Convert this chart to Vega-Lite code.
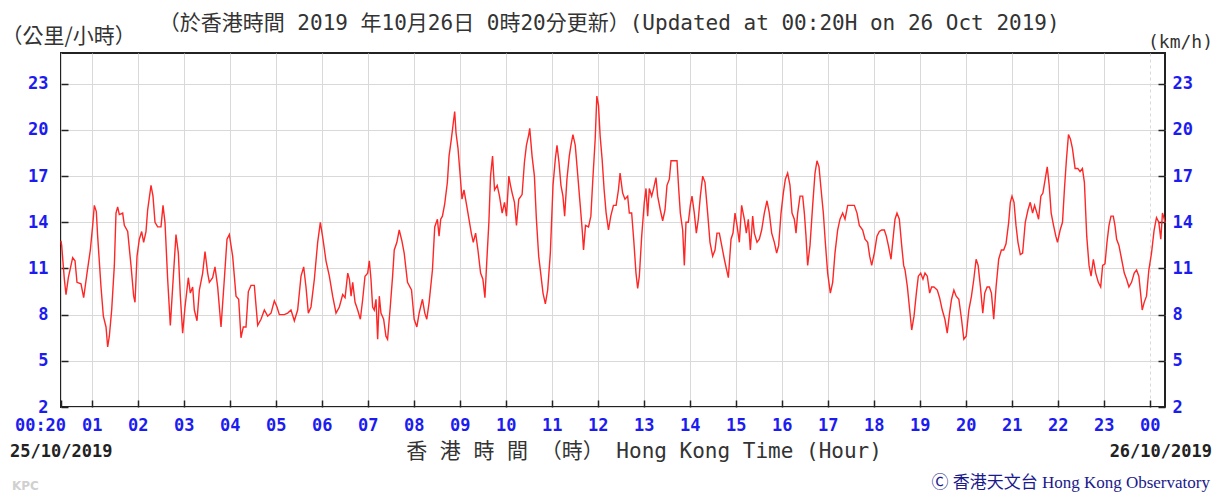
{
  "$schema": "https://vega.github.io/schema/vega-lite/v6.json",
  "width": 1104,
  "height": 354,
  "autosize": {"type": "none"},
  "padding": {"left": 61, "top": 53, "right": 52, "bottom": 85},
  "background": "white",
  "config": {
    "view": {"stroke": "#222", "strokeWidth": 2},
    "axis": {"domain": false, "labelFont": "DejaVu Sans Mono", "labelFontWeight": "bold", "labelFontSize": 17, "labelColor": "#1c1cf0", "tickColor": "#222", "tickWidth": 1.5, "tickSize": -7, "gridColor": "#d9d9d9", "gridWidth": 1, "labelOverlap": false, "labelFlush": false}
  },
  "datasets": {
    "wind": [
      {"t":0.333,"v":12.8},{"t":0.348,"v":12.5},{"t":0.406,"v":10.3},{"t":0.442,"v":9.3},{"t":0.493,"v":10.4},{"t":0.587,"v":11.7},{"t":0.638,"v":11.5},{"t":0.681,"v":10.1},{"t":0.768,"v":10.0},{"t":0.826,"v":9.1},{"t":0.899,"v":10.7},{"t":0.971,"v":12.2},{"t":1.022,"v":13.8},{"t":1.058,"v":15.1},{"t":1.101,"v":14.7},{"t":1.130,"v":13.1},{"t":1.203,"v":9.8},{"t":1.254,"v":7.9},{"t":1.312,"v":7.2},{"t":1.348,"v":5.9},{"t":1.384,"v":6.6},{"t":1.435,"v":8.3},{"t":1.493,"v":11.2},{"t":1.529,"v":14.6},{"t":1.565,"v":15.0},{"t":1.601,"v":14.5},{"t":1.674,"v":14.6},{"t":1.710,"v":13.8},{"t":1.783,"v":13.4},{"t":1.855,"v":11.2},{"t":1.913,"v":9.2},{"t":1.942,"v":8.8},{"t":1.986,"v":11.8},{"t":2.036,"v":12.9},{"t":2.087,"v":13.4},{"t":2.130,"v":12.7},{"t":2.181,"v":13.4},{"t":2.217,"v":14.8},{"t":2.290,"v":16.4},{"t":2.333,"v":15.7},{"t":2.377,"v":14.0},{"t":2.435,"v":13.7},{"t":2.507,"v":13.7},{"t":2.551,"v":15.1},{"t":2.594,"v":14.0},{"t":2.652,"v":10.3},{"t":2.710,"v":7.3},{"t":2.761,"v":9.8},{"t":2.833,"v":13.2},{"t":2.884,"v":12.0},{"t":2.928,"v":9.2},{"t":2.978,"v":6.8},{"t":3.029,"v":8.5},{"t":3.101,"v":10.4},{"t":3.145,"v":9.4},{"t":3.196,"v":9.8},{"t":3.232,"v":8.3},{"t":3.290,"v":7.6},{"t":3.341,"v":9.6},{"t":3.413,"v":10.7},{"t":3.464,"v":12.1},{"t":3.522,"v":10.7},{"t":3.558,"v":10.1},{"t":3.630,"v":10.4},{"t":3.681,"v":11.1},{"t":3.739,"v":9.8},{"t":3.812,"v":7.2},{"t":3.884,"v":10.3},{"t":3.942,"v":12.9},{"t":3.993,"v":13.2},{"t":4.065,"v":11.8},{"t":4.138,"v":9.2},{"t":4.196,"v":9.0},{"t":4.246,"v":6.5},{"t":4.297,"v":7.2},{"t":4.355,"v":7.2},{"t":4.406,"v":9.5},{"t":4.464,"v":9.9},{"t":4.536,"v":9.9},{"t":4.609,"v":7.3},{"t":4.681,"v":7.7},{"t":4.754,"v":8.3},{"t":4.826,"v":7.9},{"t":4.899,"v":8.1},{"t":4.971,"v":8.9},{"t":5.029,"v":8.5},{"t":5.080,"v":8.0},{"t":5.188,"v":8.0},{"t":5.261,"v":8.1},{"t":5.333,"v":8.3},{"t":5.406,"v":7.6},{"t":5.478,"v":8.3},{"t":5.551,"v":10.5},{"t":5.609,"v":11.1},{"t":5.659,"v":9.8},{"t":5.710,"v":8.1},{"t":5.768,"v":8.5},{"t":5.841,"v":10.3},{"t":5.913,"v":12.7},{"t":5.971,"v":14.0},{"t":6.029,"v":12.9},{"t":6.094,"v":11.5},{"t":6.167,"v":10.5},{"t":6.239,"v":9.2},{"t":6.312,"v":8.1},{"t":6.384,"v":8.5},{"t":6.457,"v":9.3},
      {"t":6.509,"v":9.1},{"t":6.567,"v":10.7},{"t":6.603,"v":10.3},{"t":6.639,"v":9.2},{"t":6.675,"v":10.1},{"t":6.726,"v":8.8},{"t":6.783,"v":8.3},{"t":6.841,"v":7.7},{"t":6.892,"v":9.0},{"t":6.942,"v":10.5},{"t":7.000,"v":10.7},{"t":7.036,"v":11.5},{"t":7.072,"v":10.3},{"t":7.108,"v":8.5},{"t":7.144,"v":8.3},{"t":7.181,"v":9.0},{"t":7.217,"v":6.4},{"t":7.253,"v":9.2},{"t":7.289,"v":8.1},{"t":7.347,"v":7.7},{"t":7.397,"v":6.6},{"t":7.433,"v":6.4},{"t":7.491,"v":8.5},{"t":7.542,"v":10.5},{"t":7.578,"v":12.2},{"t":7.635,"v":12.7},{"t":7.686,"v":13.5},{"t":7.744,"v":12.8},{"t":7.794,"v":12.0},{"t":7.866,"v":10.1},{"t":7.953,"v":9.6},{"t":8.011,"v":7.7},{"t":8.069,"v":7.2},{"t":8.119,"v":8.1},{"t":8.191,"v":9.0},{"t":8.242,"v":8.1},{"t":8.285,"v":7.7},{"t":8.336,"v":8.8},{"t":8.408,"v":10.9},{"t":8.458,"v":13.7},{"t":8.516,"v":14.2},{"t":8.552,"v":13.1},{"t":8.588,"v":14.2},{"t":8.625,"v":14.4},{"t":8.675,"v":15.2},{"t":8.733,"v":16.6},{"t":8.769,"v":18.3},{"t":8.819,"v":19.4},{"t":8.863,"v":20.5},{"t":8.892,"v":21.2},{"t":8.921,"v":19.8},{"t":8.964,"v":18.8},{"t":9.007,"v":17.2},{"t":9.051,"v":15.5},{"t":9.094,"v":16.1},{"t":9.152,"v":15.1},{"t":9.202,"v":14.2},{"t":9.253,"v":13.3},{"t":9.296,"v":12.7},{"t":9.347,"v":13.3},{"t":9.397,"v":12.2},{"t":9.455,"v":10.7},{"t":9.505,"v":10.3},{"t":9.549,"v":9.1},{"t":9.585,"v":11.2},{"t":9.635,"v":14.0},{"t":9.671,"v":17.0},{"t":9.715,"v":18.3},{"t":9.758,"v":16.1},{"t":9.816,"v":16.4},{"t":9.866,"v":15.7},{"t":9.924,"v":14.6},{"t":9.975,"v":15.3},{"t":10.018,"v":14.4},{"t":10.069,"v":17.0},{"t":10.105,"v":16.4},{"t":10.141,"v":15.9},{"t":10.191,"v":15.3},{"t":10.235,"v":13.8},{"t":10.285,"v":15.5},{"t":10.357,"v":15.8},{"t":10.408,"v":17.9},{"t":10.451,"v":19.0},{"t":10.502,"v":19.7},{"t":10.523,"v":20.1},{"t":10.574,"v":18.3},{"t":10.625,"v":17.0},{"t":10.668,"v":14.2},{"t":10.718,"v":11.8},{"t":10.769,"v":10.5},{"t":10.812,"v":9.4},{"t":10.863,"v":8.7},{"t":10.913,"v":9.6},{"t":10.971,"v":12.0},{"t":11.029,"v":16.4},{"t":11.079,"v":18.1},{"t":11.116,"v":19.0},{"t":11.159,"v":17.9},{"t":11.202,"v":16.4},{"t":11.245,"v":15.7},{"t":11.282,"v":14.4},{"t":11.332,"v":16.8},{"t":11.383,"v":18.3},{"t":11.419,"v":19.0},{"t":11.462,"v":19.7},{"t":11.513,"v":19.0},{"t":11.563,"v":17.2},{"t":11.621,"v":15.1},{"t":11.664,"v":13.5},{"t":11.693,"v":12.2},{"t":11.736,"v":13.8},{"t":11.801,"v":13.7},{"t":11.852,"v":14.4},{"t":11.895,"v":16.8},{"t":11.946,"v":19.4},{"t":11.982,"v":22.2},{"t":12.018,"v":21.6},{"t":12.054,"v":19.6},{"t":12.097,"v":18.1},{"t":12.141,"v":16.1},{"t":12.184,"v":14.6},{"t":12.235,"v":13.5},{"t":12.285,"v":14.4},{"t":12.343,"v":15.1},{"t":12.401,"v":15.1},{"t":12.451,"v":16.1},{"t":12.487,"v":17.2},
      {"t":12.543,"v":15.9},{"t":12.594,"v":15.5},{"t":12.652,"v":15.7},{"t":12.688,"v":14.6},{"t":12.739,"v":14.6},{"t":12.783,"v":12.9},{"t":12.833,"v":10.7},{"t":12.870,"v":9.7},{"t":12.906,"v":10.5},{"t":12.957,"v":13.1},{"t":13.014,"v":15.3},{"t":13.051,"v":16.2},{"t":13.087,"v":14.4},{"t":13.123,"v":16.2},{"t":13.174,"v":15.7},{"t":13.217,"v":16.2},{"t":13.268,"v":16.9},{"t":13.304,"v":15.7},{"t":13.362,"v":14.8},{"t":13.413,"v":14.1},{"t":13.464,"v":14.8},{"t":13.507,"v":16.4},{"t":13.558,"v":16.8},{"t":13.594,"v":18.0},{"t":13.667,"v":18.0},{"t":13.725,"v":18.0},{"t":13.761,"v":16.2},{"t":13.797,"v":14.6},{"t":13.848,"v":13.5},{"t":13.884,"v":11.2},{"t":13.920,"v":14.0},{"t":13.971,"v":14.0},{"t":14.014,"v":15.1},{"t":14.051,"v":15.7},{"t":14.101,"v":14.6},{"t":14.145,"v":13.3},{"t":14.188,"v":14.2},{"t":14.232,"v":15.7},{"t":14.283,"v":17.0},{"t":14.333,"v":16.6},{"t":14.391,"v":14.6},{"t":14.442,"v":12.7},{"t":14.500,"v":11.8},{"t":14.551,"v":12.2},{"t":14.594,"v":13.3},{"t":14.645,"v":13.3},{"t":14.696,"v":12.5},{"t":14.754,"v":11.6},{"t":14.812,"v":10.8},{"t":14.841,"v":10.4},{"t":14.899,"v":12.9},{"t":14.942,"v":13.3},{"t":14.986,"v":14.6},{"t":15.029,"v":13.8},{"t":15.080,"v":12.7},{"t":15.130,"v":15.1},{"t":15.188,"v":14.2},{"t":15.232,"v":13.3},{"t":15.275,"v":14.2},{"t":15.319,"v":12.2},{"t":15.370,"v":14.4},{"t":15.406,"v":13.3},{"t":15.464,"v":12.7},{"t":15.514,"v":12.9},{"t":15.565,"v":13.5},{"t":15.623,"v":14.6},{"t":15.681,"v":15.4},{"t":15.732,"v":14.6},{"t":15.783,"v":13.3},{"t":15.841,"v":12.7},{"t":15.891,"v":12.0},{"t":15.935,"v":12.5},{"t":15.986,"v":14.6},{"t":16.036,"v":15.9},{"t":16.080,"v":16.8},{"t":16.130,"v":17.2},{"t":16.181,"v":16.4},{"t":16.225,"v":14.6},{"t":16.275,"v":14.2},{"t":16.312,"v":13.3},{"t":16.348,"v":14.6},{"t":16.399,"v":15.7},{"t":16.457,"v":15.7},{"t":16.493,"v":14.6},{"t":16.529,"v":13.1},{"t":16.565,"v":11.2},{"t":16.616,"v":12.5},{"t":16.674,"v":15.1},{"t":16.725,"v":17.2},{"t":16.768,"v":18.0},{"t":16.812,"v":17.6},{"t":16.855,"v":16.2},{"t":16.906,"v":14.6},{"t":16.949,"v":12.7},{"t":17.000,"v":10.7},{"t":17.058,"v":9.4},{"t":17.109,"v":10.1},{"t":17.159,"v":12.0},{"t":17.217,"v":13.5},{"t":17.268,"v":14.2},{"t":17.326,"v":14.6},{"t":17.377,"v":14.2},{"t":17.435,"v":15.1},{"t":17.507,"v":15.1},{"t":17.580,"v":15.1},{"t":17.638,"v":14.6},{"t":17.688,"v":13.8},{"t":17.761,"v":13.5},{"t":17.812,"v":12.9},{"t":17.870,"v":12.7},{"t":17.913,"v":11.8},{"t":17.957,"v":11.2},{"t":18.014,"v":12.0},{"t":18.072,"v":13.1},{"t":18.123,"v":13.4},{"t":18.174,"v":13.5},{"t":18.232,"v":13.5},{"t":18.275,"v":13.1},{"t":18.319,"v":12.5},{"t":18.377,"v":11.6},{"t":18.420,"v":12.9},{"t":18.464,"v":14.2},{"t":18.507,"v":14.6},{"t":18.558,"v":14.2},{"t":18.609,"v":12.5},{"t":18.652,"v":11.2},
      {"t":18.682,"v":10.9},{"t":18.733,"v":9.8},{"t":18.783,"v":8.3},{"t":18.827,"v":7.0},{"t":18.877,"v":7.9},{"t":18.928,"v":9.4},{"t":18.971,"v":10.5},{"t":19.022,"v":10.7},{"t":19.072,"v":10.3},{"t":19.116,"v":10.7},{"t":19.166,"v":10.5},{"t":19.217,"v":9.4},{"t":19.260,"v":9.8},{"t":19.310,"v":9.8},{"t":19.383,"v":9.6},{"t":19.433,"v":9.1},{"t":19.491,"v":8.3},{"t":19.549,"v":7.7},{"t":19.599,"v":6.8},{"t":19.650,"v":8.1},{"t":19.693,"v":9.0},{"t":19.744,"v":9.6},{"t":19.794,"v":9.2},{"t":19.852,"v":9.0},{"t":19.910,"v":7.7},{"t":19.960,"v":6.4},{"t":20.011,"v":6.6},{"t":20.069,"v":8.3},{"t":20.126,"v":9.2},{"t":20.177,"v":10.3},{"t":20.227,"v":11.6},{"t":20.271,"v":11.2},{"t":20.321,"v":9.8},{"t":20.372,"v":8.1},{"t":20.415,"v":9.4},{"t":20.466,"v":9.8},{"t":20.516,"v":9.8},{"t":20.560,"v":9.4},{"t":20.610,"v":7.7},{"t":20.661,"v":9.8},{"t":20.718,"v":11.6},{"t":20.776,"v":12.2},{"t":20.827,"v":12.2},{"t":20.877,"v":12.6},{"t":20.935,"v":14.0},{"t":20.971,"v":15.3},{"t":21.007,"v":15.7},{"t":21.051,"v":15.3},{"t":21.094,"v":13.8},{"t":21.137,"v":12.7},{"t":21.188,"v":11.9},{"t":21.238,"v":12.0},{"t":21.296,"v":14.0},{"t":21.354,"v":14.8},{"t":21.404,"v":15.3},{"t":21.455,"v":14.6},{"t":21.498,"v":15.1},{"t":21.549,"v":14.6},{"t":21.585,"v":14.2},{"t":21.635,"v":15.7},{"t":21.679,"v":15.9},{"t":21.729,"v":16.8},{"t":21.773,"v":17.6},{"t":21.816,"v":16.4},{"t":21.859,"v":14.6},{"t":21.910,"v":13.8},{"t":21.960,"v":13.1},{"t":21.996,"v":12.7},{"t":22.054,"v":13.5},{"t":22.105,"v":14.0},{"t":22.148,"v":16.2},{"t":22.191,"v":18.1},{"t":22.235,"v":19.7},{"t":22.278,"v":19.4},{"t":22.321,"v":18.8},{"t":22.379,"v":17.5},{"t":22.437,"v":17.5},{"t":22.487,"v":17.3},{"t":22.538,"v":17.5},{"t":22.581,"v":16.6},{"t":22.632,"v":13.1},{"t":22.682,"v":11.2},{"t":22.726,"v":10.5},{"t":22.776,"v":11.6},{"t":22.827,"v":10.7},{"t":22.884,"v":10.1},{"t":22.935,"v":9.8},{"t":22.978,"v":11.2},{"t":23.029,"v":11.3},{"t":23.072,"v":12.7},{"t":23.116,"v":13.8},{"t":23.159,"v":14.4},{"t":23.209,"v":14.4},{"t":23.245,"v":13.8},{"t":23.282,"v":12.9},{"t":23.332,"v":12.5},{"t":23.390,"v":11.6},{"t":23.448,"v":10.7},{"t":23.498,"v":10.3},{"t":23.549,"v":9.8},{"t":23.606,"v":10.1},{"t":23.664,"v":10.7},{"t":23.715,"v":10.9},{"t":23.765,"v":10.5},{"t":23.809,"v":9.2},{"t":23.838,"v":8.3},{"t":23.881,"v":8.8},{"t":23.931,"v":9.2},{"t":23.982,"v":10.9},{"t":24.040,"v":12.0},{"t":24.097,"v":13.5},{"t":24.148,"v":14.3},{"t":24.199,"v":14.0},{"t":24.242,"v":12.9},{"t":24.278,"v":14.6},{"t":24.300,"v":14.4},{"t":24.333,"v":14.0}
    ],
    "one": [{}]
  },
  "resolve": {"axis": {"y": "independent", "x": "independent"}},
  "layer": [
    {
      "data": {"name": "wind"},
      "mark": {"type": "line", "color": "#ff2626", "strokeWidth": 1.4, "interpolate": "linear"},
      "encoding": {
        "x": {"field": "t", "type": "quantitative",
          "scale": {"domain": [0.3333333, 24.3333333], "nice": false, "zero": false},
          "axis": {"title": null, "values": [0.3333333,1,2,3,4,5,6,7,8,9,10,11,12,13,14,15,16,17,18,19,20,21,22,23,24],
            "labelExpr": "datum.value < 0.5 ? '00:20' : (datum.value >= 24 ? '00' : (datum.value < 10 ? '0' + datum.value : '' + datum.value))",
            "grid": true,
            "gridDash": {"condition": {"test": "datum.value >= 24", "value": [3, 3]}, "value": []},
            "labelOffset": {"condition": {"test": "datum.value < 0.5", "value": -21}, "value": 0},
            "labelPadding": 17, "labelBaseline": "top"}},
        "y": {"field": "v", "type": "quantitative",
          "scale": {"domain": [2, 25], "nice": false, "zero": false},
          "axis": {"title": null, "orient": "left", "values": [2,5,8,11,14,17,20,23], "grid": true, "labelPadding": 20, "labelAlign": "right", "labelBaseline": "middle"}}
      }
    },
    {
      "data": {"name": "one"},
      "mark": {"type": "text", "align": "left", "baseline": "middle", "font": "DejaVu Sans Mono", "fontSize": 18, "color": "#333", "clip": false},
      "encoding": {
        "x": {"datum": 23.964, "type": "quantitative", "scale": {"domain": [0.3333333, 24.3333333], "nice": false, "zero": false}, "axis": null},
        "y": {"datum": 25.62, "type": "quantitative", "scale": {"domain": [2, 25], "nice": false, "zero": false},
          "axis": {"title": null, "orient": "right", "values": [2,5,8,11,14,17,20,23], "grid": false, "labelPadding": 14, "labelAlign": "left", "labelBaseline": "middle"}},
        "text": {"value": "(km/h)"}
      }
    },
    {
      "data": {"name": "one"},
      "mark": {"type": "text", "align": "center", "baseline": "middle", "font": "DejaVu Sans Mono, Noto Sans CJK TC", "fontSize": 21, "color": "#333", "clip": false},
      "encoding": {
        "x": {"datum": 12.25, "type": "quantitative", "scale": {"domain": [0.3333333, 24.3333333], "nice": false, "zero": false}, "axis": null},
        "y": {"datum": 26.9, "type": "quantitative", "scale": {"domain": [2, 25], "nice": false, "zero": false}, "axis": null},
        "text": {"value": "（於香港時間 2019 年10月26日 0時20分更新）(Updated at 00:20H on 26 Oct 2019)"}
      }
    },
    {
      "data": {"name": "one"},
      "mark": {"type": "text", "align": "left", "baseline": "middle", "font": "Noto Sans CJK TC", "fontSize": 21, "color": "#333", "clip": false},
      "encoding": {
        "x": {"datum": -0.96, "type": "quantitative", "scale": {"domain": [0.3333333, 24.3333333], "nice": false, "zero": false}, "axis": null},
        "y": {"datum": 26.05, "type": "quantitative", "scale": {"domain": [2, 25], "nice": false, "zero": false}, "axis": null},
        "text": {"value": "（公里/小時）"}
      }
    },
    {
      "data": {"name": "one"},
      "mark": {"type": "text", "align": "center", "baseline": "middle", "font": "DejaVu Sans Mono, Noto Sans CJK TC", "fontSize": 21, "color": "#333", "clip": false},
      "encoding": {
        "x": {"datum": 13.007, "type": "quantitative", "scale": {"domain": [0.3333333, 24.3333333], "nice": false, "zero": false}, "axis": null},
        "y": {"datum": -0.924, "type": "quantitative", "scale": {"domain": [2, 25], "nice": false, "zero": false}, "axis": null},
        "text": {"value": "香 港 時 間 （時） Hong Kong Time (Hour)"}
      }
    },
    {
      "data": {"name": "one"},
      "mark": {"type": "text", "align": "left", "baseline": "middle", "font": "DejaVu Sans Mono", "fontWeight": "bold", "fontSize": 17, "color": "#222", "clip": false},
      "encoding": {
        "x": {"datum": -0.775, "type": "quantitative", "scale": {"domain": [0.3333333, 24.3333333], "nice": false, "zero": false}, "axis": null},
        "y": {"datum": -0.924, "type": "quantitative", "scale": {"domain": [2, 25], "nice": false, "zero": false}, "axis": null},
        "text": {"value": "25/10/2019"}
      }
    },
    {
      "data": {"name": "one"},
      "mark": {"type": "text", "align": "right", "baseline": "middle", "font": "DejaVu Sans Mono", "fontWeight": "bold", "fontSize": 17, "color": "#222", "clip": false},
      "encoding": {
        "x": {"datum": 25.355, "type": "quantitative", "scale": {"domain": [0.3333333, 24.3333333], "nice": false, "zero": false}, "axis": null},
        "y": {"datum": -0.924, "type": "quantitative", "scale": {"domain": [2, 25], "nice": false, "zero": false}, "axis": null},
        "text": {"value": "26/10/2019"}
      }
    },
    {
      "data": {"name": "one"},
      "mark": {"type": "text", "align": "right", "baseline": "middle", "font": "Liberation Serif, Noto Sans CJK TC", "fontSize": 17, "color": "#1a1a8c", "clip": false},
      "encoding": {
        "x": {"datum": 25.311, "type": "quantitative", "scale": {"domain": [0.3333333, 24.3333333], "nice": false, "zero": false}, "axis": null},
        "y": {"datum": -2.938, "type": "quantitative", "scale": {"domain": [2, 25], "nice": false, "zero": false}, "axis": null},
        "text": {"value": "Ⓒ 香港天文台 Hong Kong Observatory"}
      }
    },
    {
      "data": {"name": "one"},
      "mark": {"type": "text", "align": "left", "baseline": "middle", "font": "DejaVu Sans", "fontWeight": "bold", "fontSize": 12, "color": "#d0d0d0", "clip": false},
      "encoding": {
        "x": {"datum": -0.732, "type": "quantitative", "scale": {"domain": [0.3333333, 24.3333333], "nice": false, "zero": false}, "axis": null},
        "y": {"datum": -3.13, "type": "quantitative", "scale": {"domain": [2, 25], "nice": false, "zero": false}, "axis": null},
        "text": {"value": "KPC"}
      }
    }
  ]
}
